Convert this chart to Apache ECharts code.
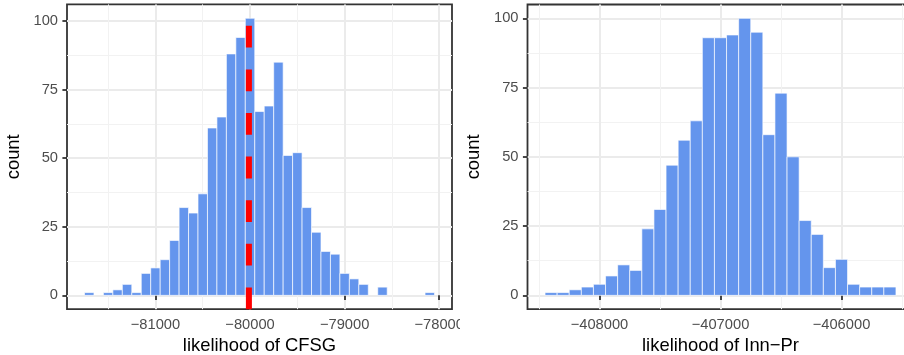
<!DOCTYPE html>
<html>
<head>
<meta charset="utf-8">
<script src="https://cdn.jsdelivr.net/npm/echarts@6/dist/echarts.min.js"></script>
<style>
html,body{margin:0;padding:0;width:904px;height:355px;overflow:hidden;background:#fff;}
#left{position:absolute;left:0;top:0;width:460px;height:355px;}
#right{position:absolute;left:460px;top:0;width:460px;height:355px;}
</style>
</head>
<body>
<div id="left"></div>
<div id="right"></div>
<script>
// ---- data ----
const binWidth = 100;
const cfsgBins = [-81700,-81600,-81500,-81400,-81300,-81200,-81100,-81000,-80900,-80800,-80700,-80600,-80500,-80400,-80300,-80200,-80100,-80000,-79900,-79800,-79700,-79600,-79500,-79400,-79300,-79200,-79100,-79000,-78900,-78800,-78700,-78600,-78500,-78400,-78300,-78200,-78100];
const cfsgCounts = [1,0,1,2,4,1,8,10,13,20,32,30,37,61,65,88,94,101,67,69,85,51,52,32,23,16,15,8,6,4,0,3,0,0,0,0,1];
const cfsgRef = -80012;
const innBins = [-408400,-408300,-408200,-408100,-408000,-407900,-407800,-407700,-407600,-407500,-407400,-407300,-407200,-407100,-407000,-406900,-406800,-406700,-406600,-406500,-406400,-406300,-406200,-406100,-406000,-405900,-405800,-405700,-405600];
const innCounts = [1,1,2,3,4,7,11,9,24,31,47,56,63,93,93,94,100,95,58,73,50,27,22,10,13,4,3,3,3];
const yTicks = [0,25,50,75,100];
const yMinor = [12.5,37.5,62.5,87.5];
const cfsgTicks = [-81000,-80000,-79000,-78000];
const cfsgMinor = [-81500,-80500,-79500,-78500];
const innTicks = [-408000,-407000,-406000];
const innMinor = [-408500,-407500,-406500,-405500];

// ---- helpers ----
const FONT = '"Liberation Sans", Arial, Helvetica, sans-serif';
const minusFmt = v => String(v).replace('-', '\u2212');

function pad(lo, hi) { const d = (hi - lo) * 0.05; return [lo - d, hi + d]; }

function makeOption(bins, counts, xTicks, xMinor, xTitle, gridPos, refLine) {
  const xr = pad(bins[0] - binWidth / 2, bins[bins.length - 1] + binWidth / 2);
  const yr = pad(0, Math.max.apply(null, counts));
  const data = bins.map((b, i) => [b, counts[i]]).filter(d => d[1] > 0);
  const series = [{
    type: 'custom',
    xAxisIndex: 0, yAxisIndex: 0,
    data: data,
    renderItem: function (params, api) {
      const x = api.value(0), y = api.value(1);
      const p0 = api.coord([x - binWidth / 2, 0]);
      const p1 = api.coord([x + binWidth / 2, y]);
      return {
        type: 'rect',
        shape: { x: p0[0], y: p1[1], width: p1[0] - p0[0], height: p0[1] - p1[1] },
        style: { fill: '#6495ED', stroke: 'rgba(255,255,255,0.65)', lineWidth: 1 }
      };
    },
    z: 3
  }];
  if (refLine !== null) {
    series.push({
      type: 'line',
      xAxisIndex: 0, yAxisIndex: 0,
      data: [[refLine, yr[0]], [refLine, yr[1]]],
      showSymbol: false, symbol: 'none',
      lineStyle: { color: '#ff0000', width: 6, type: [21.8, 21.8], cap: 'butt' },
      z: 4, silent: true, animation: false
    });
  }
  const tickLine = { color: '#333333', width: 1.8 };
  return {
    animation: false,
    textStyle: { fontFamily: FONT },
    grid: Object.assign({ show: true, borderColor: '#333333', borderWidth: 1.8, backgroundColor: '#ffffff',
      containLabel: false, outerBoundsMode: 'none' }, gridPos),
    xAxis: [{
      type: 'value', min: xr[0], max: xr[1], position: 'bottom',
      axisLine: { show: false },
      axisTick: { show: true, customValues: xTicks, length: 4.6, lineStyle: tickLine },
      axisLabel: { customValues: xTicks, formatter: minusFmt, color: '#4d4d4d', fontSize: 14.7, fontFamily: FONT, margin: 8, hideOverlap: false },
      splitLine: { show: true, lineStyle: { color: '#ebebeb', width: 2 } },
      name: xTitle, nameLocation: 'middle', nameGap: 25.5,
      nameTextStyle: { color: '#000000', fontSize: 18.4, fontFamily: FONT }
    }, {
      type: 'value', min: xr[0], max: xr[1], position: 'bottom',
      axisLine: { show: false },
      axisTick: { show: false, customValues: xMinor },
      axisLabel: { show: false },
      splitLine: { show: true, lineStyle: { color: '#f2f2f2', width: 1 } }
    }],
    yAxis: [{
      type: 'value', min: yr[0], max: yr[1],
      axisLine: { show: false },
      axisTick: { show: true, customValues: yTicks, length: 4.6, lineStyle: tickLine },
      axisLabel: { customValues: yTicks, color: '#4d4d4d', fontSize: 14.7, fontFamily: FONT, margin: 9 },
      splitLine: { show: true, lineStyle: { color: '#ebebeb', width: 2 } },
      name: 'count', nameLocation: 'middle', nameGap: 38,
      nameTextStyle: { color: '#000000', fontSize: 18.4, fontFamily: FONT }
    }, {
      type: 'value', min: yr[0], max: yr[1],
      axisLine: { show: false },
      axisTick: { show: false, customValues: yMinor },
      axisLabel: { show: false },
      splitLine: { show: true, lineStyle: { color: '#f2f2f2', width: 1 } }
    }],
    series: series
  };
}

const leftChart = echarts.init(document.getElementById('left'), null, { renderer: 'canvas' });
leftChart.setOption(makeOption(cfsgBins, cfsgCounts, cfsgTicks, cfsgMinor, 'likelihood of CFSG',
  { left: 67, right: 8, top: 4.4, bottom: 45.8 }, cfsgRef));

const rightChart = echarts.init(document.getElementById('right'), null, { renderer: 'canvas' });
rightChart.setOption(makeOption(innBins, innCounts, innTicks, innMinor, 'likelihood of Inn\u2212Pr',
  { left: 67.5, right: 6.5, top: 4.5, bottom: 45.8 }, null));
</script>
</body>
</html>
